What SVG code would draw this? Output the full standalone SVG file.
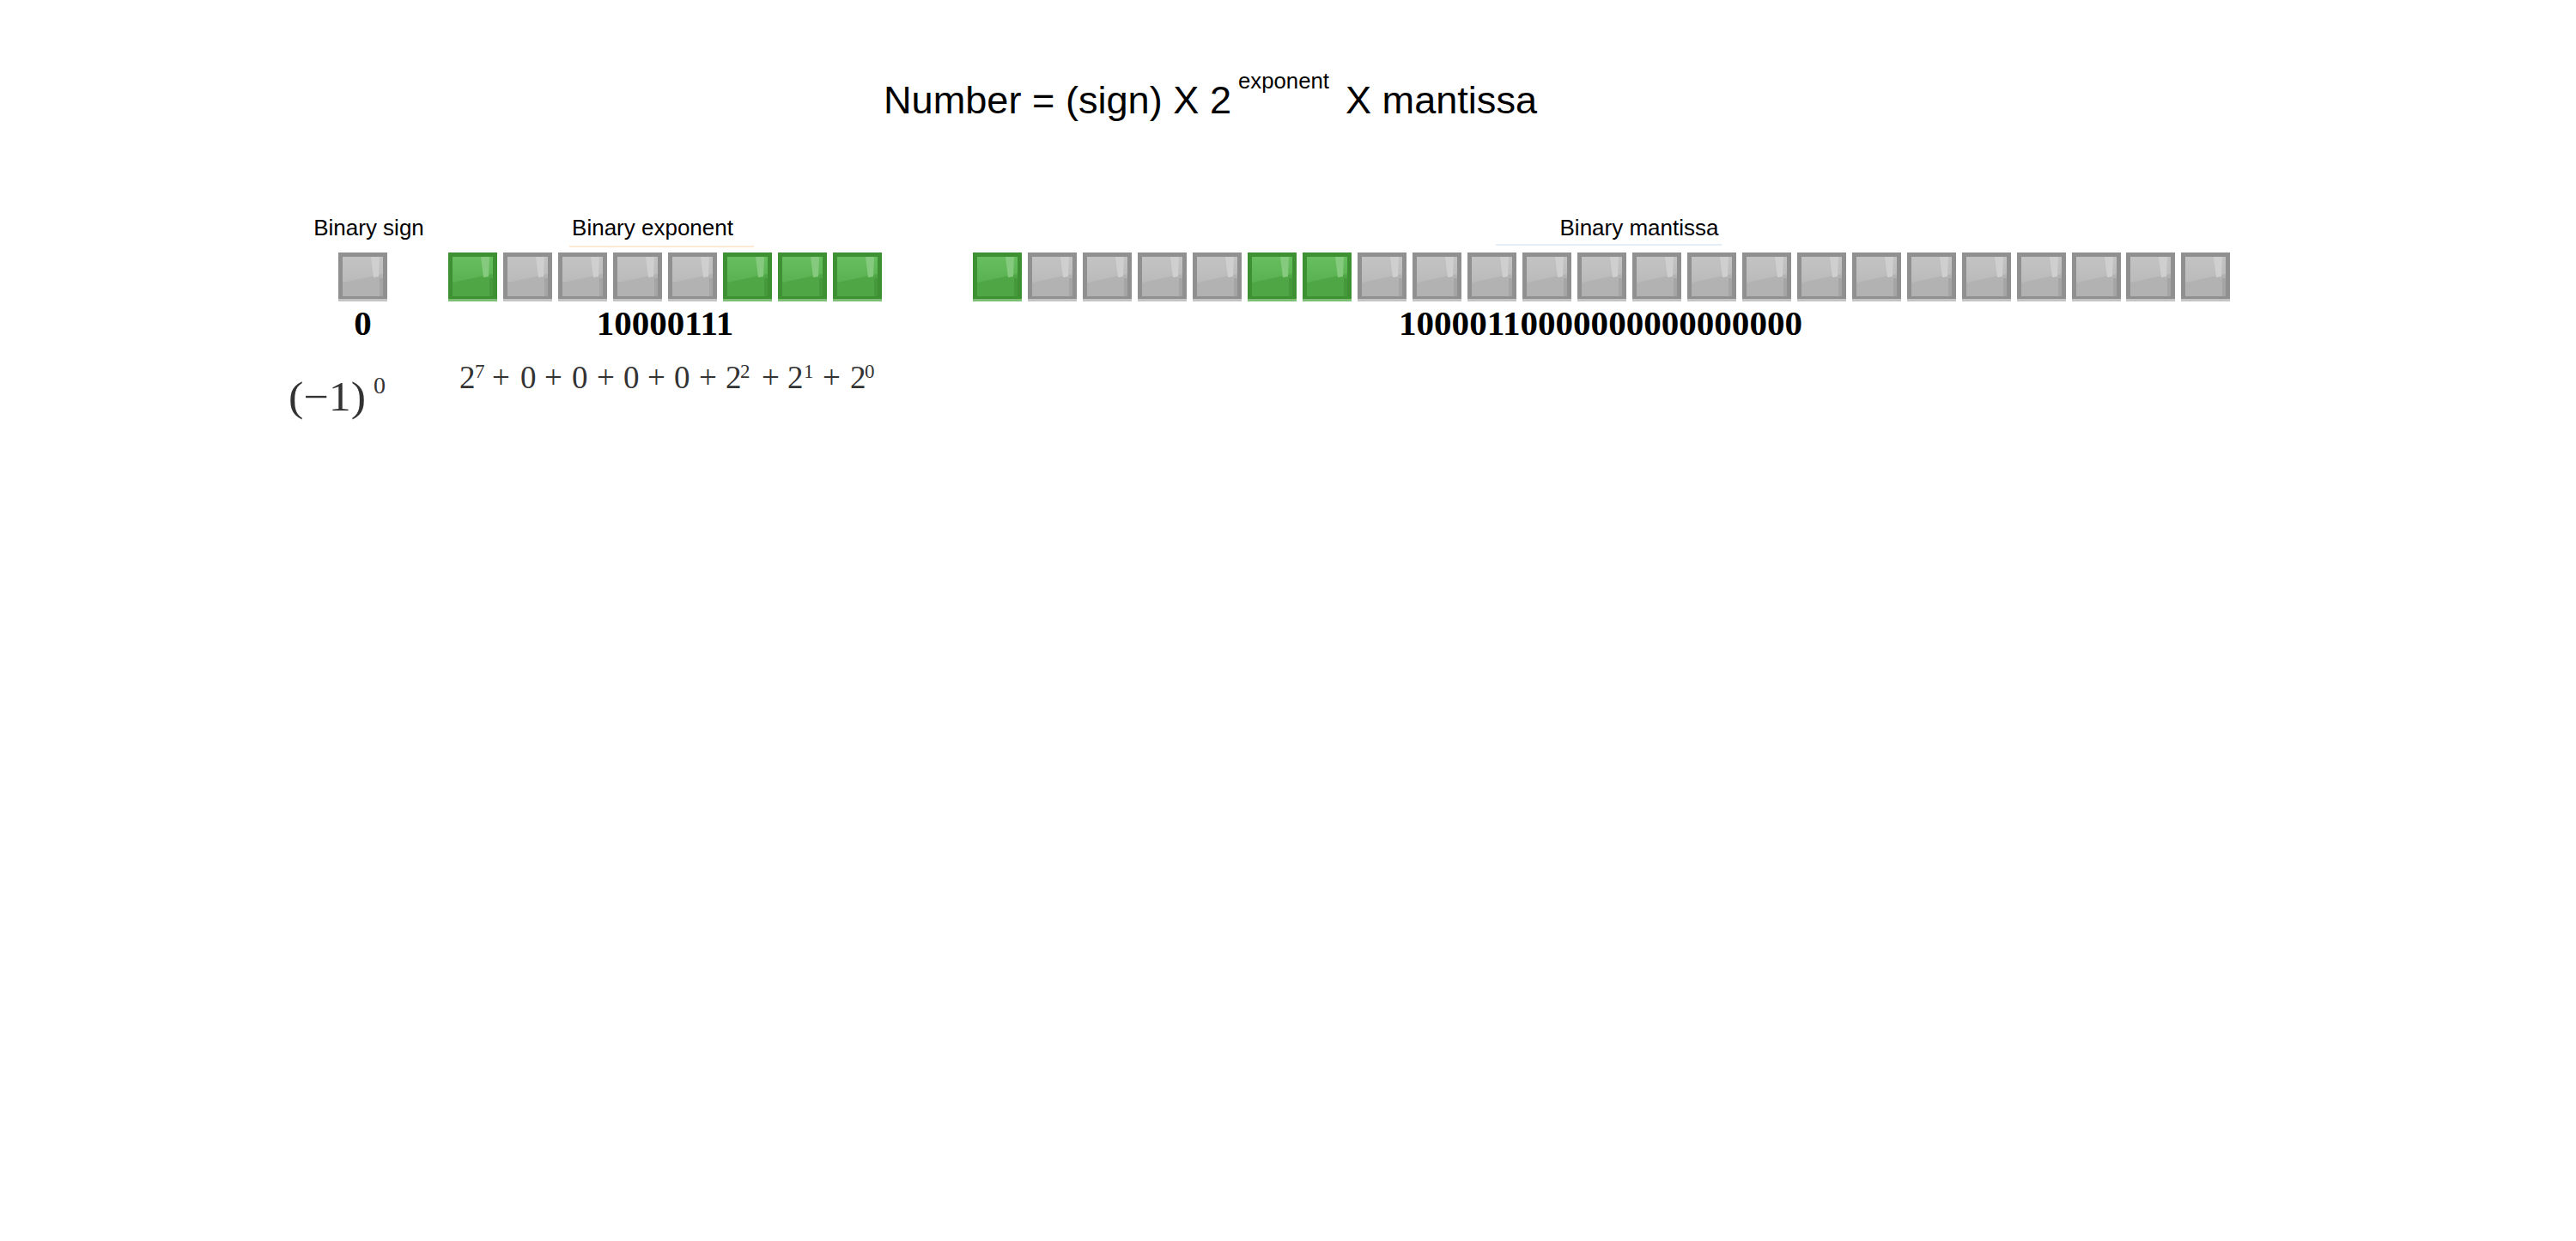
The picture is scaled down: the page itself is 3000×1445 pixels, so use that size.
<svg xmlns="http://www.w3.org/2000/svg" xmlns:xlink="http://www.w3.org/1999/xlink" width="3000" height="1445" viewBox="0 0 3000 1445">
<style>
.sans{font-family:"Liberation Sans",Arial,sans-serif;fill:#000}
.lbl{font-family:"Liberation Sans",Arial,sans-serif;font-size:26px;fill:#000;text-anchor:middle}
.bits{font-family:"Liberation Serif","Times New Roman",serif;font-size:41px;font-weight:bold;fill:#000;text-anchor:middle}
.math{font-family:"Liberation Serif","Times New Roman",serif;fill:#333}
</style>
<defs>
<linearGradient id="gIn" x1="0" y1="0" x2="0" y2="1">
<stop offset="0" stop-color="#c3c3c3"/><stop offset="1" stop-color="#b6b6b6"/>
</linearGradient>
<linearGradient id="vIn" x1="0" y1="0" x2="0" y2="1">
<stop offset="0" stop-color="#66be5f"/><stop offset="1" stop-color="#52aa48"/>
</linearGradient>
<g id="grayBox">
<rect x="0" y="0" width="57" height="57" fill="#909090"/>
<rect x="0" y="54" width="57" height="3" fill="#c4c4c4"/>
<rect x="5" y="5" width="47" height="46" fill="url(#gIn)"/>
<polygon points="5,35 52,25 52,51 5,51" fill="#b2b2b2"/>
<polygon points="38,5 48,5 47,28 41,29" fill="#cfcfcf"/>
<rect x="48" y="30" width="4" height="21" fill="#a5a5a5"/>
</g>
<g id="greenBox">
<rect x="0" y="0" width="57" height="57" fill="#3d9133"/>
<rect x="0" y="54" width="57" height="3" fill="#7cbf74"/>
<rect x="5" y="5" width="47" height="46" fill="url(#vIn)"/>
<polygon points="5,35 52,25 52,51 5,51" fill="#4ea744"/>
<polygon points="38,5 48,5 47,28 41,29" fill="#85ca7e"/>
<rect x="48" y="30" width="4" height="21" fill="#45993b"/>
</g>
</defs>
<rect width="3000" height="1445" fill="#fff"/>

<g id="title">
<text class="sans" font-size="45" x="1029" y="132" textLength="405" lengthAdjust="spacingAndGlyphs">Number = (sign) X 2</text>
<text class="sans" font-size="26" x="1442" y="103" textLength="106" lengthAdjust="spacingAndGlyphs">exponent</text>
<text class="sans" font-size="45" x="1567" y="132" textLength="223" lengthAdjust="spacingAndGlyphs">X mantissa</text>
</g>

<g id="labels">
<text class="lbl" x="429.5" y="274" font-size="25.5">Binary sign</text>
<text class="lbl" x="760" y="274">Binary exponent</text>
<line x1="663" y1="287" x2="878" y2="287" stroke="#fde9d4" stroke-width="2"/>
<text class="lbl" x="1909" y="274">Binary mantissa</text>
<line x1="1742" y1="285" x2="2005" y2="285" stroke="#e3eef6" stroke-width="2"/>
</g>

<g id="sign-bit"><use xlink:href="#grayBox" x="394" y="294"/></g>

<g id="exponent-bits">
<g id="e7"><use xlink:href="#greenBox" x="522" y="294"/></g>
<g id="e6"><use xlink:href="#grayBox" x="586" y="294"/></g>
<g id="e5"><use xlink:href="#grayBox" x="650" y="294"/></g>
<g id="e4"><use xlink:href="#grayBox" x="714" y="294"/></g>
<g id="e3"><use xlink:href="#grayBox" x="778" y="294"/></g>
<g id="e2"><use xlink:href="#greenBox" x="842" y="294"/></g>
<g id="e1"><use xlink:href="#greenBox" x="906" y="294"/></g>
<g id="e0"><use xlink:href="#greenBox" x="970" y="294"/></g>
</g>

<g id="mantissa-bits">
<g id="m22"><use xlink:href="#greenBox" x="1133" y="294"/></g>
<g id="m21"><use xlink:href="#grayBox" x="1197" y="294"/></g>
<g id="m20"><use xlink:href="#grayBox" x="1261" y="294"/></g>
<g id="m19"><use xlink:href="#grayBox" x="1325" y="294"/></g>
<g id="m18"><use xlink:href="#grayBox" x="1389" y="294"/></g>
<g id="m17"><use xlink:href="#greenBox" x="1453" y="294"/></g>
<g id="m16"><use xlink:href="#greenBox" x="1517" y="294"/></g>
<g id="m15"><use xlink:href="#grayBox" x="1581" y="294"/></g>
<g id="m14"><use xlink:href="#grayBox" x="1645" y="294"/></g>
<g id="m13"><use xlink:href="#grayBox" x="1709" y="294"/></g>
<g id="m12"><use xlink:href="#grayBox" x="1773" y="294"/></g>
<g id="m11"><use xlink:href="#grayBox" x="1837" y="294"/></g>
<g id="m10"><use xlink:href="#grayBox" x="1901" y="294"/></g>
<g id="m9"><use xlink:href="#grayBox" x="1965" y="294"/></g>
<g id="m8"><use xlink:href="#grayBox" x="2029" y="294"/></g>
<g id="m7"><use xlink:href="#grayBox" x="2093" y="294"/></g>
<g id="m6"><use xlink:href="#grayBox" x="2157" y="294"/></g>
<g id="m5"><use xlink:href="#grayBox" x="2221" y="294"/></g>
<g id="m4"><use xlink:href="#grayBox" x="2285" y="294"/></g>
<g id="m3"><use xlink:href="#grayBox" x="2349" y="294"/></g>
<g id="m2"><use xlink:href="#grayBox" x="2413" y="294"/></g>
<g id="m1"><use xlink:href="#grayBox" x="2476" y="294"/></g>
<g id="m0"><use xlink:href="#grayBox" x="2540" y="294"/></g>
</g>

<g id="bit-values">
<text class="bits" x="422.5" y="390">0</text>
<text class="bits" x="774.5" y="390">10000111</text>
<text class="bits" x="1864" y="390" textLength="470" lengthAdjust="spacingAndGlyphs">10000110000000000000000</text>
</g>

<g id="sign-formula">
<text class="math" font-size="48" x="336" y="478" textLength="90" lengthAdjust="spacingAndGlyphs">(−1)</text>
<text class="math" font-size="28" x="435" y="458">0</text>
</g>

<g id="exponent-formula">
<text class="math" font-size="37" y="452"><tspan x="535">2</tspan><tspan x="573">+</tspan><tspan x="606">0</tspan><tspan x="634">+</tspan><tspan x="666">0</tspan><tspan x="695">+</tspan><tspan x="726">0</tspan><tspan x="754">+</tspan><tspan x="785">0</tspan><tspan x="814">+</tspan><tspan x="845">2</tspan><tspan x="887">+</tspan><tspan x="917">2</tspan><tspan x="958">+</tspan><tspan x="990">2</tspan></text>
<text class="math" font-size="23" y="440"><tspan x="553">7</tspan><tspan x="862">2</tspan><tspan x="936">1</tspan><tspan x="1007">0</tspan></text>
</g>
</svg>
